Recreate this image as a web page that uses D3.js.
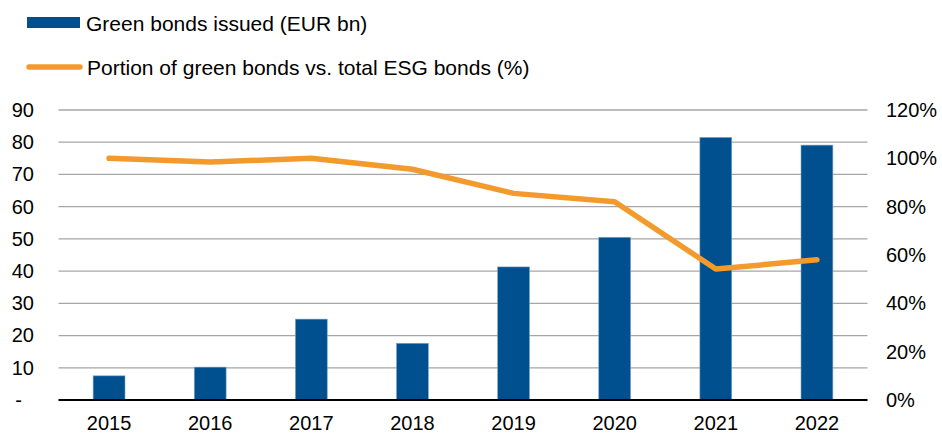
<!DOCTYPE html>
<html><head><meta charset="utf-8">
<script src="https://cdn.jsdelivr.net/npm/d3@7"></script>
<style>
html,body{margin:0;padding:0;background:#fff;}
svg{display:block;font-family:"Liberation Sans",Arial,sans-serif;}
</style></head>
<body>
<svg id="chart" width="942" height="434"></svg>
<script>
const years = ["2015","2016","2017","2018","2019","2020","2021","2022"];
const greenBonds = [7.5, 10.2, 25.1, 17.6, 41.3, 50.5, 81.5, 79.1];
const portionPct = [100.0, 98.5, 100.0, 95.5, 85.5, 82.0, 54.2, 58.0];
const leftTicks = [0,10,20,30,40,50,60,70,80,90];
const rightTicks = [0,20,40,60,80,100,120];
const legendLabels = ["Green bonds issued (EUR bn)", "Portion of green bonds vs. total ESG bonds (%)"];

const blue = "#00508f", orange = "#f39a2c", grid = "#a6a6a6";
const svg = d3.select("#chart");
const L = 58.5, R = 867.5, T = 110, B = 400;

const x = d3.scaleBand().domain(years).range([L, R]).paddingInner(0.685).paddingOuter(0.3425);
const y = d3.scaleLinear().domain([0, 90]).range([B, T]);
const y2 = d3.scaleLinear().domain([0, 120]).range([B, T]);

// gridlines
svg.append("g").selectAll("line").data(leftTicks.filter(d => d > 0)).join("line")
  .attr("x1", L).attr("x2", R).attr("y1", d => y(d)).attr("y2", d => y(d))
  .attr("stroke", grid).attr("stroke-width", 1.3);

// bars
svg.append("g").selectAll("rect").data(greenBonds).join("rect")
  .attr("x", (d, i) => x(years[i])).attr("width", x.bandwidth())
  .attr("y", d => y(d)).attr("height", d => B - y(d))
  .attr("fill", blue).attr("stroke", "#7fa3c4").attr("stroke-width", 0.6);

// baseline
svg.append("line").attr("x1", L).attr("x2", R).attr("y1", B).attr("y2", B)
  .attr("stroke", "#000").attr("stroke-width", 2);

// line
const line = d3.line().x((d, i) => x(years[i]) + x.bandwidth() / 2).y(d => y2(d));
svg.append("path").datum(portionPct).attr("d", line)
  .attr("fill", "none").attr("stroke", orange).attr("stroke-width", 5.5)
  .attr("stroke-linecap", "round").attr("stroke-linejoin", "round");

const fs = "20px", lfs = "21px";
// left axis
const ax = svg.append("g").attr("transform", `translate(34,0)`)
  .call(d3.axisLeft(y).tickValues(leftTicks).tickSize(0).tickPadding(0).tickFormat(d => d === 0 ? "-" : d));
ax.select(".domain").remove();
ax.selectAll("text").attr("font-size", fs).attr("fill", "#000").attr("font-family", "Liberation Sans, Arial, sans-serif")
  .attr("dx", d => d === 0 ? -12 : 0);

// right axis
const ax2 = svg.append("g").attr("transform", `translate(886,0)`)
  .call(d3.axisRight(y2).tickValues(rightTicks).tickSize(0).tickPadding(0).tickFormat(d => d + "%"));
ax2.select(".domain").remove();
ax2.selectAll("text").attr("font-size", fs).attr("fill", "#000").attr("font-family", "Liberation Sans, Arial, sans-serif");

// x axis
const ax3 = svg.append("g").attr("transform", `translate(0,${B})`)
  .call(d3.axisBottom(x).tickSize(0).tickPadding(16));
ax3.select(".domain").remove();
ax3.selectAll("text").attr("font-size", fs).attr("fill", "#000").attr("font-family", "Liberation Sans, Arial, sans-serif");

// legend
const lg = svg.append("g");
lg.append("rect").attr("x", 27).attr("y", 17).attr("width", 53).attr("height", 11).attr("fill", blue);
lg.append("text").attr("x", 86).attr("y", 30.5).attr("font-size", lfs).text(legendLabels[0]);
lg.append("line").attr("x1", 29).attr("x2", 80).attr("y1", 67).attr("y2", 67)
  .attr("stroke", orange).attr("stroke-width", 5.5).attr("stroke-linecap", "round");
lg.append("text").attr("x", 87).attr("y", 74.5).attr("font-size", lfs).text(legendLabels[1]);
</script>
</body></html>
